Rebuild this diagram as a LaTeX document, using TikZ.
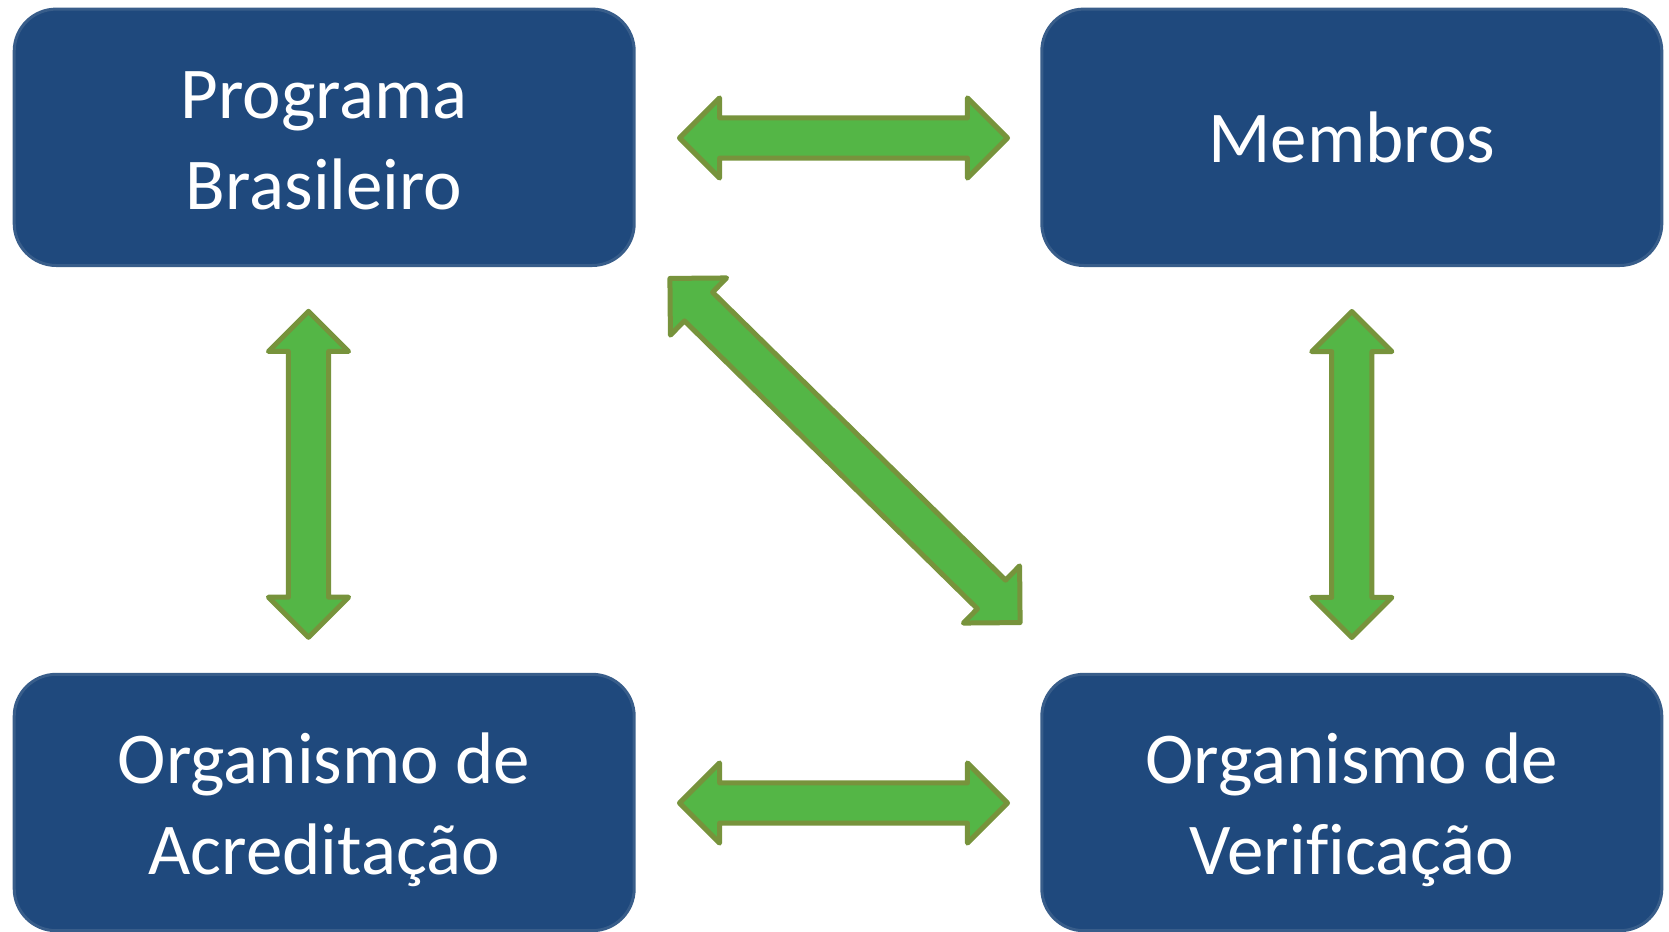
\documentclass[tikz,border=0pt]{standalone}
\usepackage{fontspec}
\setmainfont{Carlito}[Ligatures=NoCommon]
\usetikzlibrary{shapes.arrows}
\definecolor{boxblue}{HTML}{1F497D}
\definecolor{boxline}{HTML}{385D8A}
\definecolor{arrfill}{HTML}{54B646}
\definecolor{arrline}{HTML}{77933C}
\begin{document}
\begin{tikzpicture}[x=0.5pt,y=-0.5pt,
  box/.style={draw=boxline,fill=boxblue,line width=1.5pt,rounded corners=21pt,
    minimum width=310pt,minimum height=128.2pt,inner sep=0pt,
    text=white,align=center,font=\fontsize{36.5}{45.5}\selectfont},
  twoline/.style={text height=71.7pt,text depth=0pt},
  dbl/.style={double arrow,draw=arrline,fill=arrfill,line width=2.5pt,line join=round,
    double arrow head extend=10pt,inner xsep=0pt,inner ysep=8.8pt,minimum height=#1}]
\useasboundingbox (0,0) rectangle (1669,931);

\node[box,twoline] (prog) at (324.2,137.3) {Programa\\Brasileiro};
\node[box] (memb) at (1351.8,137.3) {Membros};
\node[box,twoline] (acred) at (324.2,802.5) {Organismo de\\Acreditação};
\node[box,twoline] (verif) at (1351.8,802.5) {Organismo de\\Verificação};

\node[dbl=164pt] (pm) at (843.5,138) {};
\node[dbl=164pt] (av) at (843.5,803) {};
\node[dbl=163pt,rotate=90] (pa) at (308.5,474.3) {};
\node[dbl=163pt,rotate=90] (mv) at (1351.8,474.5) {};
\node[dbl=245.5pt,rotate=-44.5] (pv) at (845,450.5) {};
\end{tikzpicture}
\end{document}
